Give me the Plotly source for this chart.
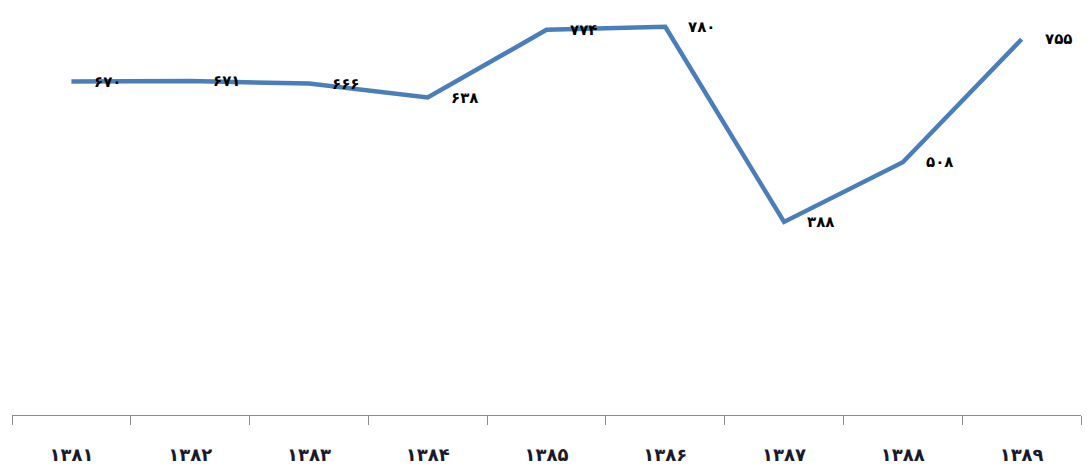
import plotly.graph_objects as go

years = ["۱۳۸۱", "۱۳۸۲", "۱۳۸۳", "۱۳۸۴", "۱۳۸۵", "۱۳۸۶", "۱۳۸۷", "۱۳۸۸", "۱۳۸۹"]
values = [670, 671, 666, 638, 774, 780, 388, 508, 755]
labels = ["۶۷۰", "۶۷۱", "۶۶۶", "۶۳۸", "۷۷۴", "۷۸۰", "۳۸۸", "۵۰۸", "۷۵۵"]

fig = go.Figure()
fig.add_trace(go.Scatter(
    x=years, y=values, mode="lines",
    line=dict(color="#4a7ebb", width=4.5),
    hoverinfo="skip", showlegend=False,
))

for xv, yv, t in zip(years, values, labels):
    fig.add_annotation(
        x=xv, y=yv, text="<b>" + t + "</b>", showarrow=False,
        xanchor="left", yanchor="middle", xshift=21,
        font=dict(family="DejaVu Sans", size=15, color="#000000"),
    )

fig.update_layout(
    width=1087, height=472,
    margin=dict(l=12, r=6, t=0, b=57),
    paper_bgcolor="white", plot_bgcolor="white",
    xaxis=dict(
        type="category",
        showline=True, linecolor="#8c8c8c", linewidth=1.3,
        ticks="outside", tickson="boundaries", ticklen=9, tickcolor="#8c8c8c", tickwidth=1.3,
        showgrid=False, zeroline=False,
        tickfont=dict(family="DejaVu Sans", size=18, color="#1a1a2e", weight="bold"),
        ticklabelstandoff=23,
        range=[-0.5, 8.5],
    ),
    yaxis=dict(visible=False, range=[0, 834], showgrid=False, zeroline=False),
)

fig.write_html("out.html")
